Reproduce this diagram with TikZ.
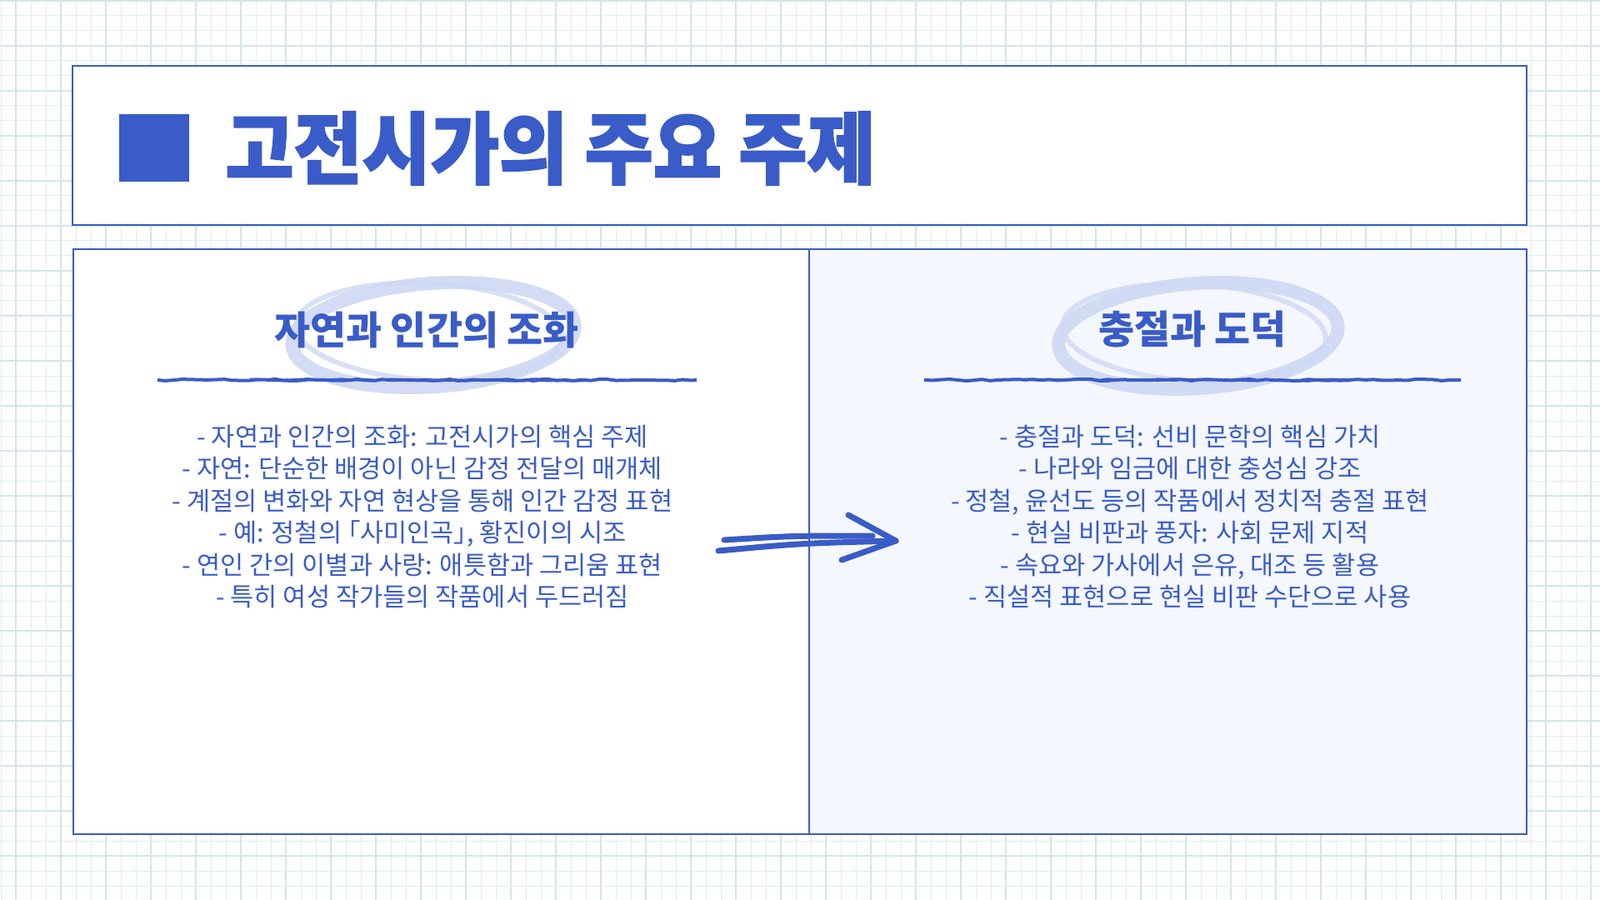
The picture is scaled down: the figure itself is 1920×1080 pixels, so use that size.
\documentclass[tikz,border=0pt]{standalone}
\usepackage{fontspec}
\setmainfont[RawFeature=+palt]{Noto Sans CJK KR}
\newfontfamily\titlefont[FakeStretch=0.95,FakeBold=2]{Noto Sans CJK KR}
\usetikzlibrary{decorations.pathmorphing}
\definecolor{mainblue}{HTML}{3A5CC8}
\definecolor{brushblue}{HTML}{CFD9F3}
\definecolor{panelfill}{HTML}{F4F7FE}
\definecolor{gridline}{HTML}{E0EEF2}
\definecolor{gridmajor}{HTML}{D2E5EC}
\tikzset{
  panel/.style={draw=mainblue, line width=1pt},
  heading/.style={text=mainblue, font=\fontsize{23.4}{28}\selectfont\bfseries},
  bodytext/.style={text=mainblue, align=center, font=\fontsize{15.3}{19.25}\selectfont},
  brush/.style={draw=brushblue, line width=8pt, line cap=round},
  stroke/.style={draw=mainblue, line width=3.5pt, line cap=round, line join=round},
  underline/.style={draw=mainblue, line width=2pt, decorate,
    decoration={random steps, segment length=5pt, amplitude=0.5pt}}
}
\begin{document}
\begin{tikzpicture}[x=0.5pt,y=-0.5pt]
\useasboundingbox (0,0) rectangle (1920,1080);
% grid paper
\fill[white] (0,0) rectangle (1920,1080);
\foreach \g in {1,19,...,1920} \draw[gridline, line width=0.5pt] (\g,0) -- (\g,1080);
\foreach \g in {1,19,...,1080} \draw[gridline, line width=0.5pt] (0,\g) -- (1920,\g);
\foreach \g in {19,73,...,1920} \draw[gridmajor, line width=0.6pt] (\g,0) -- (\g,1080);
\foreach \g in {1,55,...,1080} \draw[gridmajor, line width=0.6pt] (0,\g) -- (1920,\g);

% header
\draw[panel, fill=white] (87,79) rectangle (1832,270);
\fill[mainblue] (143,137) rectangle (227,218);
\node (title) [anchor=west, inner sep=0, text=mainblue, font=\titlefont\fontsize{47}{52}\selectfont\bfseries] at (270,178) {고전시가의 주요 주제};

% panels
\draw[panel, fill=white] (88,299) rectangle (971,1001);
\draw[panel, fill=panelfill] (971,299) rectangle (1832,1001);

% brush circles
\draw[brush, opacity=0.9] (520,402) ellipse [x radius=170, y radius=62, rotate=4];
\draw[brush, line width=3pt, opacity=0.8] (515,398) ellipse [x radius=160, y radius=58, rotate=-3];
\draw[brush, opacity=0.9] (1438,403) ellipse [x radius=168, y radius=63, rotate=4];
\draw[brush, line width=3pt, opacity=0.8] (1433,399) ellipse [x radius=158, y radius=58, rotate=-3];

% underlines
\draw[underline] (189,456) -- (836,456);
\draw[underline, line width=1.4pt] (300,455) -- (700,457);
\draw[underline] (1109,456) -- (1753,456);
\draw[underline, line width=1.4pt] (1220,455) -- (1620,457);

% headings
\node (natureHead) [heading] at (512,396) {자연과 인간의 조화};
\node (loyaltyHead) [heading] at (1431,395) {충절과 도덕};

% body
\node (natureBody) [bodytext] at (507,620) {- 자연과 인간의 조화: 고전시가의 핵심 주제\\
- 자연: 단순한 배경이 아닌 감정 전달의 매개체\\
- 계절의 변화와 자연 현상을 통해 인간 감정 표현\\
- 예: 정철의 「사미인곡」, 황진이의 시조\\
- 연인 간의 이별과 사랑: 애틋함과 그리움 표현\\
- 특히 여성 작가들의 작품에서 두드러짐};
\node (loyaltyBody) [bodytext] at (1428,620) {- 충절과 도덕: 선비 문학의 핵심 가치\\
- 나라와 임금에 대한 충성심 강조\\
- 정철, 윤선도 등의 작품에서 정치적 충절 표현\\
- 현실 비판과 풍자: 사회 문제 지적\\
- 속요와 가사에서 은유, 대조 등 활용\\
- 직설적 표현으로 현실 비판 수단으로 사용};

% arrow
\coordinate (tailA) at (869,648);
\coordinate (tailB) at (862,661);
\coordinate (tipA) at (1047,643);
\coordinate (arrowtip) at (1075,649);
\coordinate (barbUp) at (1018,618);
\coordinate (barbDown) at (1010,672);
\draw[stroke] (tailA) .. controls (950,643) .. (tipA);
\draw[stroke] (tailB) .. controls (960,652) .. (arrowtip);
\draw[stroke] (barbUp) -- (arrowtip) -- (barbDown);
\end{tikzpicture}
\end{document}
